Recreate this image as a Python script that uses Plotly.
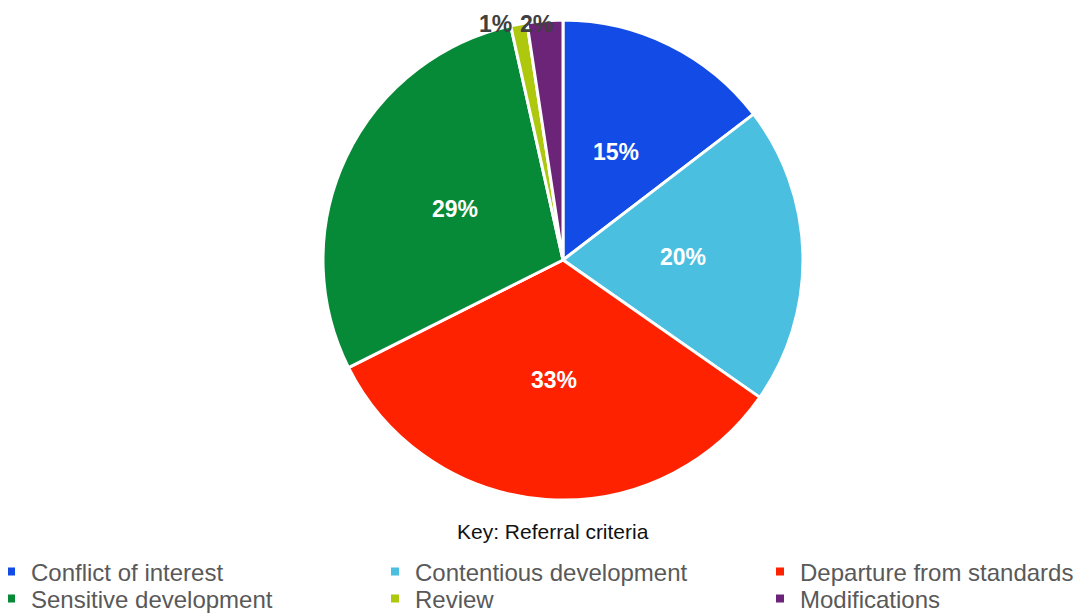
import math
import plotly.graph_objects as go

# referral criteria share (%), clockwise from 12 o'clock
criteria = ["Conflict of interest", "Contentious development", "Departure from standards",
            "Sensitive development", "Review", "Modifications"]
shares = [14.6, 20.1, 32.9, 28.9, 1.1, 2.4]
colors = ["#124BE6", "#4BBFE0", "#FF2200", "#078A37", "#AEC80E", "#6B2478"]

# page has an 8px body margin, so the figure is drawn 8px in from the window edge
W, H = 1075, 606
cx, cy, r = 555, 252, 240
FONT = "Liberation Sans, Arial"

fig = go.Figure()
fig.add_trace(go.Pie(
    labels=criteria, values=shares, sort=False, direction="clockwise", rotation=0,
    marker=dict(colors=colors, line=dict(color="white", width=3)),
    textinfo="none",
    domain=dict(x=[(cx - r) / W, (cx + r) / W], y=[1 - (cy + r) / H, 1 - (cy - r) / H]),
    showlegend=False, hoverinfo="label+percent",
))

# data labels from slice mid-angles: big slices inside at half radius, small ones at the rim
total = sum(shares)
outside = {"Review": (-5, 0), "Modifications": (10, -3)}
cum = 0
for name, v in zip(criteria, shares):
    mid = (cum + v / 2) / total * 2 * math.pi
    cum += v
    label = f"{round(v / total * 100)}%"
    if name in outside:
        rr, col, xa = r, "#404040", "right"
        dx, dy = outside[name]
    else:
        rr, col, xa = 0.5 * r, "white", "center"
        dx, dy = 0, 0
    px_ = cx + rr * math.sin(mid)
    py_ = cy - rr * math.cos(mid)
    fig.add_annotation(x=px_ / W, y=1 - py_ / H, xref="paper", yref="paper",
                       text=label, showarrow=False, xanchor=xa, yanchor="middle",
                       xshift=dx, yshift=dy,
                       font=dict(family=FONT, size=23, color=col, weight="bold"))

# legend: one small legend per entry, laid out in a 3x2 grid
col_left = [-17, 367, 752]
row_mid = [564, 591]
legends = {}
for i, (name, c) in enumerate(zip(criteria, colors)):
    key = "legend" if i == 0 else f"legend{i + 1}"
    fig.add_trace(go.Scatter(x=[None], y=[None], mode="markers", name=name,
                             legend=key, showlegend=True,
                             marker=dict(symbol="square", size=8, color=c)))
    legends[key] = dict(
        x=col_left[i % 3] / W, xanchor="left",
        y=1 - row_mid[i // 3] / H, yanchor="middle",
        itemwidth=30, bgcolor="rgba(0,0,0,0)",
        font=dict(family=FONT, size=24, color="#595959"),
    )

fig.add_annotation(x=545 / W, y=1 - 523 / H, xref="paper", yref="paper",
                   text="Key: Referral criteria", showarrow=False,
                   xanchor="center", yanchor="middle",
                   font=dict(family=FONT, size=21, color="#111111"))

fig.update_layout(
    width=W, height=H, margin=dict(l=0, r=0, t=0, b=0, autoexpand=False),
    paper_bgcolor="white", plot_bgcolor="white",
    xaxis=dict(visible=False), yaxis=dict(visible=False),
    font=dict(family=FONT, color="#404040"),
    **legends,
)

fig.write_html("out.html")
